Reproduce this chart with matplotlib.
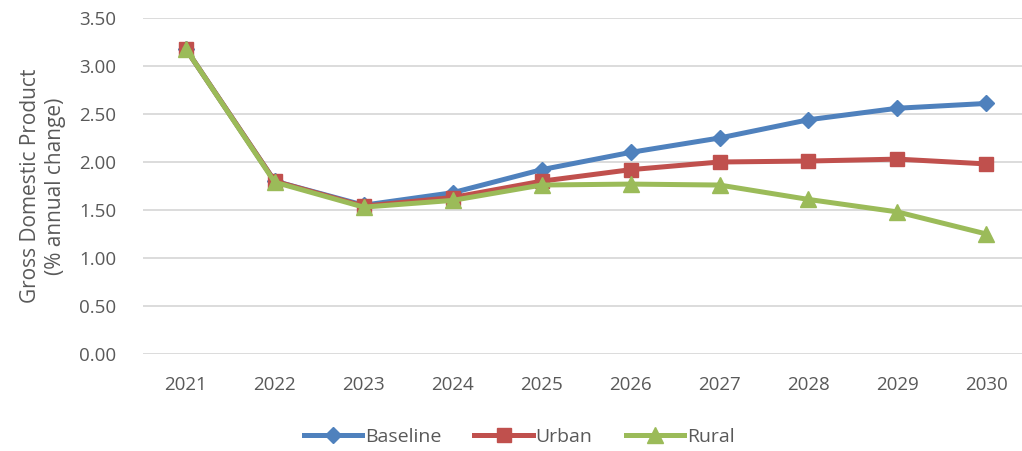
import matplotlib

matplotlib.use("Agg")
import matplotlib.pyplot as plt

years = ["2021", "2022", "2023", "2024", "2025", "2026", "2027", "2028", "2029", "2030"]
baseline = [3.18, 1.80, 1.55, 1.68, 1.92, 2.10, 2.25, 2.44, 2.56, 2.61]
urban = [3.18, 1.80, 1.54, 1.63, 1.80, 1.92, 2.00, 2.01, 2.03, 1.98]
rural = [3.18, 1.79, 1.53, 1.60, 1.76, 1.77, 1.76, 1.61, 1.48, 1.25]
yticks = [0.0, 0.5, 1.0, 1.5, 2.0, 2.5, 3.0, 3.5]

TEXT = "#595959"
plt.rcParams["font.family"] = ["Open Sans", "DejaVu Sans"]

fig = plt.figure(figsize=(10.22, 4.51), dpi=100)
ax = fig.add_axes([143 / 1022, 97 / 451, (1022 - 143) / 1022, (354 - 18) / 451])

x = list(range(len(years)))
ax.plot(x, baseline, color="#4F81BD", lw=3.6, marker="D", ms=8.5, label="Baseline", zorder=3)
ax.plot(x, urban, color="#C0504D", lw=3.6, marker="s", ms=10.5, label="Urban", zorder=4)
ax.plot(x, rural, color="#9BBB59", lw=3.6, marker="^", ms=11, label="Rural", zorder=5)

ax.set_xlim(-0.48, 9.4)
ax.set_ylim(0, 3.5)
ax.set_yticks(yticks)
ax.set_yticklabels([f"{v:.2f}" for v in yticks])
ax.set_xticks(x)
ax.set_xticklabels(years)
ax.grid(axis="y", color="#D9D9D9", lw=1.3)
ax.set_axisbelow(True)
for s in ax.spines.values():
    s.set_visible(False)
ax.tick_params(length=0, labelsize=13.5, colors=TEXT)
ax.tick_params(axis="x", pad=16)
ax.tick_params(axis="y", pad=19)
ax.set_ylabel("Gross Domestic Product\n(% annual change)", fontsize=15, color=TEXT,
              labelpad=10)

fig.legend(loc="center", bbox_to_anchor=(0.508, 0.031), ncol=3, frameon=False,
           fontsize=14, labelcolor=TEXT, handlelength=3.0, columnspacing=1.7, handletextpad=0.15)

fig.savefig("out.png", dpi=100)
